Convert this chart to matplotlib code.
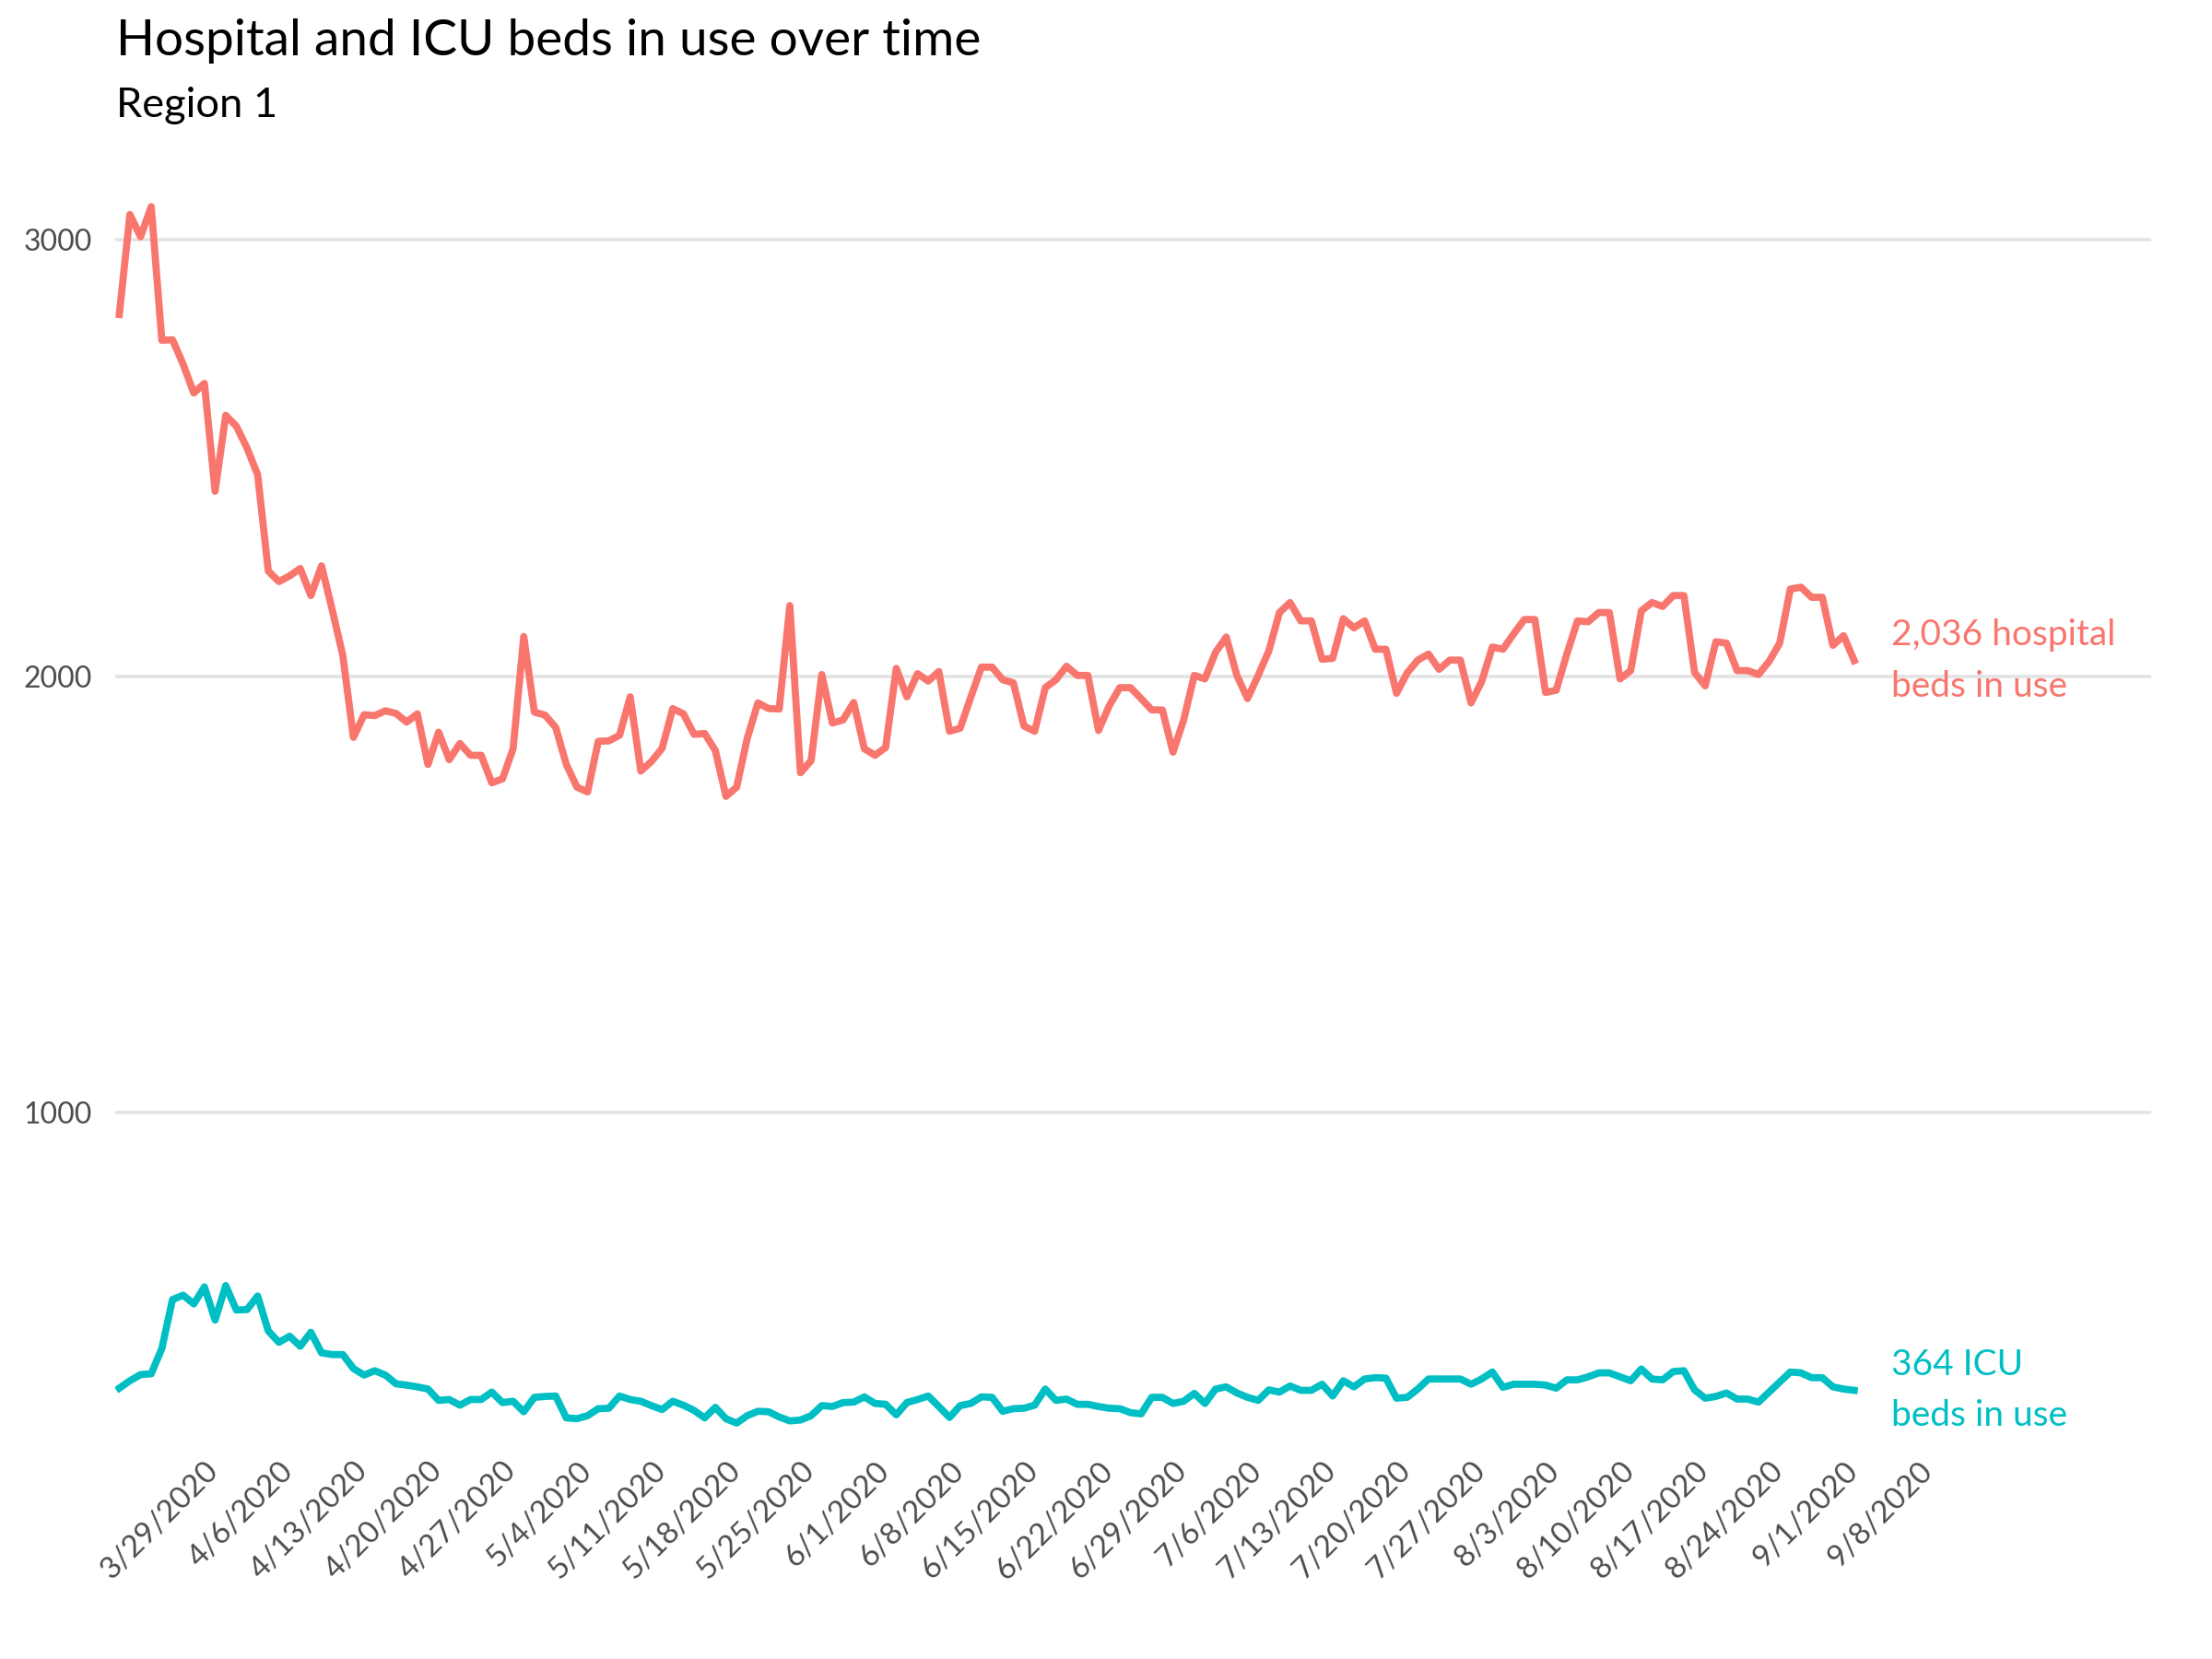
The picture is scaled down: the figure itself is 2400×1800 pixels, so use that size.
import numpy as np
import matplotlib
matplotlib.use("Agg")
from matplotlib import pyplot as plt

# day index relative to the first labelled week (3/29/2020)
days = np.arange(-8, 156)

hospital = [
    2829, 3058, 3007, 3076, 2770, 2771, 2715, 2649, 2671, 2424,
    2598, 2573, 2523, 2462, 2241, 2217, 2230, 2247, 2185, 2253,
    2153, 2048, 1860, 1912, 1910, 1921, 1915, 1895, 1914, 1798,
    1872, 1809, 1846, 1819, 1819, 1756, 1765, 1834, 2091, 1918,
    1911, 1883, 1798, 1746, 1735, 1851, 1852, 1865, 1953, 1783,
    1805, 1835, 1926, 1914, 1867, 1869, 1830, 1725, 1746, 1858,
    1939, 1926, 1925, 2162, 1779, 1807, 2004, 1893, 1900, 1940,
    1834, 1819, 1837, 2018, 1953, 2006, 1989, 2011, 1874, 1881,
    1952, 2021, 2021, 1992, 1985, 1886, 1874, 1974, 1992, 2023,
    2002, 2002, 1876, 1932, 1974, 1974, 1949, 1923, 1923, 1826,
    1900, 2002, 1994, 2055, 2090, 2002, 1949, 2002, 2058, 2146,
    2169, 2127, 2127, 2039, 2041, 2132, 2111, 2127, 2062, 2062,
    1961, 2008, 2037, 2051, 2016, 2037, 2037, 1939, 1988, 2067,
    2062, 2097, 2130, 2130, 1963, 1968, 2051, 2127, 2125, 2146,
    2146, 1994, 2013, 2150, 2169, 2160, 2185, 2185, 2009, 1978,
    2079, 2076, 2013, 2013, 2004, 2034, 2076, 2200, 2204, 2181,
    2181, 2071, 2093, 2036,
]

icu = [
    369, 386, 400, 402, 460, 572, 582, 562, 601, 525,
    604, 548, 549, 580, 500, 474, 488, 465, 497, 450,
    446, 446, 414, 399, 409, 399, 379, 376, 372, 367,
    341, 343, 330, 343, 343, 360, 336, 339, 315, 348,
    350, 351, 301, 299, 306, 322, 323, 351, 343, 339,
    329, 320, 339, 330, 318, 301, 325, 299, 289, 306,
    316, 315, 303, 294, 296, 306, 329, 327, 336, 337,
    349, 334, 332, 308, 336, 343, 351, 327, 302, 329,
    334, 349, 348, 316, 322, 323, 330, 367, 341, 344,
    332, 332, 327, 323, 322, 313, 310, 348, 348, 334,
    339, 357, 334, 367, 372, 358, 348, 341, 365, 360,
    374, 364, 364, 378, 351, 386, 372, 390, 393, 392,
    346, 348, 367, 390, 390, 390, 390, 378, 390, 406,
    371, 378, 378, 378, 376, 369, 388, 388, 395, 404,
    404, 395, 386, 413, 390, 388, 407, 409, 365, 346,
    350, 358, 344, 344, 337, 360, 383, 406, 404, 393,
    393, 372, 367, 364,
]

week_labels = [
    "3/29/2020", "4/6/2020", "4/13/2020", "4/20/2020", "4/27/2020",
    "5/4/2020", "5/11/2020", "5/18/2020", "5/25/2020", "6/1/2020",
    "6/8/2020", "6/15/2020", "6/22/2020", "6/29/2020", "7/6/2020",
    "7/13/2020", "7/20/2020", "7/27/2020", "8/3/2020", "8/10/2020",
    "8/17/2020", "8/24/2020", "9/1/2020", "9/8/2020",
]
week_ticks = np.arange(len(week_labels)) * 7

red = "#F8766D"
teal = "#00BFC4"

plt.rcParams['font.family'] = ['Lato', 'DejaVu Sans']

fig = plt.figure(figsize=(12, 9), dpi=200)
ax = fig.add_axes([0.052, 0.128, 0.9205, 0.784])

ax.plot(days, hospital, color=red, lw=2.8, solid_joinstyle='round')
ax.plot(days, icu, color=teal, lw=2.8, solid_joinstyle='round')

ax.set_xlim(-8.4, 182.9)
ax.set_ylim(235, 3215)
ax.set_yticks([1000, 2000, 3000])
ax.set_xticks(week_ticks)
ax.set_xticklabels(week_labels, rotation=45, ha='right', va='top',
                   rotation_mode='anchor')
ax.tick_params(axis='both', length=0, labelcolor='#4D4D4D')
ax.tick_params(axis='y', pad=9, labelsize=11.5)
ax.tick_params(axis='x', pad=4, labelsize=12)
ax.grid(axis='y', color='#E3E3E3', lw=1.3)
ax.set_axisbelow(True)
for s in ax.spines.values():
    s.set_visible(False)

ax.text(days[-1] + 3.5, hospital[-1], f"{hospital[-1]:,} hospital\nbeds in use",
        color=red, fontsize=14, va='center', ha='left', linespacing=1.68)
ax.text(days[-1] + 3.5, icu[-1], f"{icu[-1]:,} ICU\nbeds in use",
        color=teal, fontsize=14, va='center', ha='left', linespacing=1.68)

fig.text(0.0525, 0.9667, "Hospital and ICU beds in use over time",
         fontsize=19.8, va='baseline', ha='left', color='black')
fig.text(0.0525, 0.9294, "Region 1", fontsize=16.3, va='baseline', ha='left',
         color='black')

fig.savefig("out.png", dpi=200)
